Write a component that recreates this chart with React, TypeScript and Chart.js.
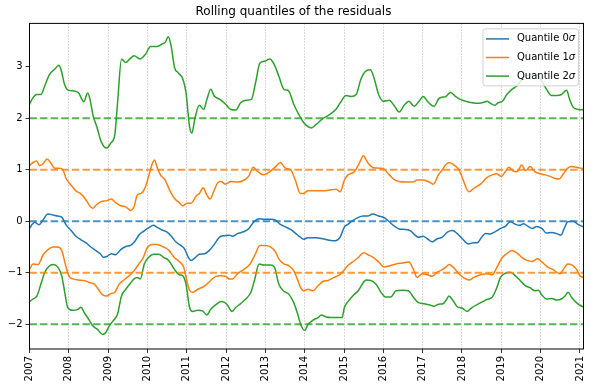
import React, { useEffect, useRef } from "react";
import { Chart, registerables } from "chart.js";

Chart.register(...registerables);

const TITLE = "Rolling quantiles of the residuals";
const YEAR_TICKS = [2007, 2008, 2009, 2010, 2011, 2012, 2013, 2014, 2015, 2016, 2017, 2018, 2019, 2020, 2021];
const Y_TICKS = [-2, -1, 0, 1, 2, 3];
const X_MIN = 2007;
const X_MAX = 2021.09;
const Y_MIN = -2.48;
const Y_MAX = 3.84;
const LEGEND_LABELS = ["Quantile 0", "Quantile 1", "Quantile 2"];
const REF_LEVELS = [0, 1, -1, 2, -2];

const q0: [number, number][] = [[2007.0,-0.14],[2007.07,-0.06],[2007.13,-0.02],[2007.24,-0.07],[2007.34,0.02],[2007.47,0.14],[2007.6,0.12],[2007.72,0.10],[2007.82,0.08],[2007.93,-0.07],[2008.06,-0.18],[2008.18,-0.29],[2008.31,-0.36],[2008.44,-0.42],[2008.56,-0.50],[2008.69,-0.57],[2008.8,-0.63],[2008.88,-0.70],[2008.98,-0.68],[2009.08,-0.63],[2009.19,-0.65],[2009.32,-0.55],[2009.45,-0.49],[2009.57,-0.47],[2009.67,-0.40],[2009.78,-0.27],[2009.91,-0.19],[2010.03,-0.13],[2010.15,-0.08],[2010.25,-0.12],[2010.37,-0.17],[2010.5,-0.21],[2010.62,-0.30],[2010.72,-0.40],[2010.83,-0.46],[2010.94,-0.53],[2011.04,-0.70],[2011.11,-0.76],[2011.21,-0.71],[2011.32,-0.64],[2011.45,-0.63],[2011.57,-0.57],[2011.7,-0.45],[2011.83,-0.31],[2011.95,-0.28],[2012.08,-0.27],[2012.16,-0.29],[2012.29,-0.24],[2012.46,-0.20],[2012.58,-0.14],[2012.71,-0.01],[2012.84,0.05],[2012.96,0.04],[2013.13,0.04],[2013.26,0.02],[2013.38,-0.06],[2013.51,-0.11],[2013.64,-0.16],[2013.76,-0.23],[2013.89,-0.31],[2013.97,-0.35],[2014.08,-0.32],[2014.29,-0.32],[2014.46,-0.34],[2014.63,-0.37],[2014.78,-0.38],[2014.9,-0.31],[2015.01,-0.11],[2015.1,-0.06],[2015.22,0.01],[2015.35,0.07],[2015.49,0.10],[2015.6,0.10],[2015.73,0.14],[2015.88,0.10],[2016.02,0.07],[2016.15,-0.01],[2016.27,-0.09],[2016.4,-0.15],[2016.57,-0.16],[2016.7,-0.19],[2016.78,-0.25],[2016.89,-0.31],[2017.01,-0.29],[2017.12,-0.34],[2017.24,-0.40],[2017.37,-0.34],[2017.5,-0.31],[2017.63,-0.21],[2017.76,-0.18],[2017.88,-0.24],[2018.01,-0.34],[2018.16,-0.44],[2018.3,-0.42],[2018.39,-0.42],[2018.5,-0.31],[2018.6,-0.24],[2018.72,-0.25],[2018.85,-0.20],[2018.98,-0.14],[2019.1,-0.10],[2019.23,-0.01],[2019.36,-0.06],[2019.46,-0.08],[2019.57,-0.05],[2019.68,-0.10],[2019.79,-0.14],[2019.9,-0.10],[2020.03,-0.14],[2020.15,-0.23],[2020.28,-0.22],[2020.41,-0.24],[2020.52,-0.27],[2020.6,-0.14],[2020.69,-0.01],[2020.83,0.00],[2020.95,-0.06],[2021.09,-0.11]];

const q1Up: [number, number][] = [[2007.0,1.08],[2007.09,1.14],[2007.18,1.17],[2007.26,1.08],[2007.34,1.11],[2007.45,1.21],[2007.54,1.13],[2007.64,1.03],[2007.76,1.03],[2007.85,1.00],[2007.93,0.83],[2008.06,0.70],[2008.18,0.59],[2008.31,0.53],[2008.44,0.41],[2008.52,0.31],[2008.61,0.25],[2008.69,0.31],[2008.82,0.38],[2008.97,0.40],[2009.08,0.43],[2009.19,0.36],[2009.32,0.30],[2009.45,0.28],[2009.57,0.21],[2009.66,0.28],[2009.74,0.51],[2009.84,0.54],[2009.95,0.67],[2010.03,0.87],[2010.12,1.11],[2010.18,1.19],[2010.24,1.06],[2010.33,0.90],[2010.45,0.80],[2010.56,0.61],[2010.69,0.44],[2010.81,0.36],[2010.9,0.30],[2011.0,0.35],[2011.11,0.35],[2011.24,0.49],[2011.32,0.54],[2011.42,0.65],[2011.49,0.54],[2011.59,0.43],[2011.68,0.57],[2011.78,0.74],[2011.87,0.77],[2011.98,0.72],[2012.12,0.77],[2012.29,0.76],[2012.46,0.80],[2012.58,0.88],[2012.69,1.05],[2012.81,0.96],[2012.96,0.90],[2013.11,0.96],[2013.26,1.06],[2013.38,1.14],[2013.51,1.03],[2013.64,1.00],[2013.76,0.80],[2013.89,0.54],[2013.97,0.54],[2014.08,0.59],[2014.25,0.59],[2014.46,0.59],[2014.67,0.61],[2014.8,0.62],[2014.9,0.57],[2015.01,0.80],[2015.1,0.90],[2015.26,0.96],[2015.39,1.13],[2015.49,1.27],[2015.6,1.14],[2015.74,1.04],[2015.9,1.03],[2016.02,1.01],[2016.15,0.90],[2016.27,0.81],[2016.4,0.77],[2016.57,0.76],[2016.74,0.76],[2016.86,0.80],[2016.99,0.80],[2017.14,0.77],[2017.27,0.72],[2017.4,0.90],[2017.5,1.00],[2017.58,1.09],[2017.67,1.14],[2017.8,1.09],[2017.92,1.00],[2018.03,0.80],[2018.11,0.64],[2018.18,0.57],[2018.3,0.64],[2018.47,0.72],[2018.64,0.85],[2018.77,0.90],[2018.88,0.92],[2019.0,0.87],[2019.1,0.96],[2019.19,1.05],[2019.29,0.98],[2019.4,0.96],[2019.52,1.09],[2019.62,0.98],[2019.73,1.06],[2019.86,0.96],[2019.99,0.92],[2020.11,0.90],[2020.24,0.87],[2020.37,0.83],[2020.47,0.82],[2020.58,0.92],[2020.69,1.03],[2020.79,1.06],[2020.91,1.05],[2021.09,1.02]];

const q1Lo: [number, number][] = [[2007.0,-0.93],[2007.09,-0.83],[2007.22,-0.84],[2007.34,-0.66],[2007.47,-0.55],[2007.6,-0.50],[2007.72,-0.50],[2007.82,-0.57],[2007.91,-0.83],[2008.0,-1.06],[2008.1,-1.12],[2008.23,-1.14],[2008.39,-1.15],[2008.52,-1.19],[2008.65,-1.22],[2008.75,-1.32],[2008.86,-1.43],[2008.97,-1.45],[2009.08,-1.40],[2009.17,-1.38],[2009.28,-1.22],[2009.4,-1.14],[2009.53,-1.06],[2009.66,-0.96],[2009.78,-0.83],[2009.89,-0.71],[2009.99,-0.52],[2010.12,-0.45],[2010.24,-0.45],[2010.41,-0.50],[2010.54,-0.56],[2010.69,-0.71],[2010.81,-0.78],[2010.92,-0.89],[2011.0,-1.15],[2011.07,-1.34],[2011.15,-1.38],[2011.28,-1.32],[2011.45,-1.26],[2011.61,-1.15],[2011.74,-1.07],[2011.87,-1.06],[2011.99,-1.07],[2012.08,-1.12],[2012.16,-1.12],[2012.29,-1.02],[2012.46,-0.93],[2012.61,-0.83],[2012.73,-0.66],[2012.86,-0.47],[2013.01,-0.47],[2013.13,-0.50],[2013.26,-0.60],[2013.34,-0.73],[2013.47,-0.83],[2013.59,-0.86],[2013.72,-0.96],[2013.81,-1.12],[2013.89,-1.28],[2013.97,-1.35],[2014.08,-1.32],[2014.21,-1.35],[2014.34,-1.25],[2014.46,-1.17],[2014.59,-1.15],[2014.72,-1.10],[2014.88,-1.04],[2014.99,-0.96],[2015.1,-0.86],[2015.22,-0.79],[2015.37,-0.70],[2015.5,-0.61],[2015.63,-0.66],[2015.74,-0.70],[2015.88,-0.79],[2016.02,-0.89],[2016.15,-0.87],[2016.32,-0.83],[2016.49,-0.81],[2016.65,-0.79],[2016.76,-0.93],[2016.86,-1.09],[2016.99,-1.02],[2017.12,-1.04],[2017.24,-1.07],[2017.37,-0.99],[2017.5,-0.94],[2017.59,-0.89],[2017.67,-0.84],[2017.8,-0.91],[2017.92,-1.02],[2018.05,-1.10],[2018.18,-1.14],[2018.3,-1.09],[2018.47,-1.04],[2018.64,-1.02],[2018.77,-1.04],[2018.89,-0.89],[2019.02,-0.71],[2019.14,-0.63],[2019.27,-0.57],[2019.4,-0.62],[2019.52,-0.70],[2019.65,-0.76],[2019.78,-0.78],[2019.93,-0.73],[2020.03,-0.79],[2020.18,-0.89],[2020.32,-0.94],[2020.49,-1.02],[2020.58,-0.93],[2020.69,-0.83],[2020.8,-0.85],[2020.91,-0.93],[2021.0,-1.06],[2021.09,-1.09]];

const q2Up: [number, number][] = [[2007.0,2.27],[2007.09,2.40],[2007.18,2.46],[2007.29,2.46],[2007.39,2.63],[2007.51,2.85],[2007.64,2.95],[2007.75,3.03],[2007.81,2.92],[2007.89,2.66],[2008.0,2.54],[2008.14,2.53],[2008.25,2.49],[2008.38,2.32],[2008.48,2.49],[2008.54,2.36],[2008.62,2.04],[2008.71,1.84],[2008.82,1.55],[2008.96,1.42],[2009.07,1.52],[2009.17,1.68],[2009.24,2.30],[2009.34,3.15],[2009.45,3.08],[2009.55,3.15],[2009.66,3.21],[2009.81,3.15],[2009.95,3.24],[2010.08,3.39],[2010.24,3.39],[2010.37,3.44],[2010.45,3.47],[2010.53,3.58],[2010.6,3.41],[2010.69,2.98],[2010.77,2.89],[2010.9,2.76],[2010.98,2.50],[2011.07,1.84],[2011.13,1.71],[2011.21,2.01],[2011.32,2.25],[2011.43,2.17],[2011.51,2.36],[2011.61,2.56],[2011.7,2.43],[2011.85,2.36],[2011.99,2.27],[2012.12,2.17],[2012.25,2.16],[2012.37,2.30],[2012.5,2.35],[2012.64,2.36],[2012.75,2.69],[2012.86,3.07],[2013.0,3.11],[2013.11,3.15],[2013.22,3.05],[2013.34,2.82],[2013.47,2.56],[2013.59,2.53],[2013.72,2.27],[2013.85,2.07],[2013.96,1.93],[2014.04,1.86],[2014.17,1.81],[2014.29,1.88],[2014.46,1.99],[2014.63,2.07],[2014.8,2.18],[2014.93,2.33],[2015.05,2.44],[2015.18,2.42],[2015.31,2.46],[2015.43,2.76],[2015.56,2.92],[2015.67,2.94],[2015.77,2.76],[2015.88,2.46],[2016.0,2.33],[2016.15,2.35],[2016.27,2.25],[2016.4,2.12],[2016.53,2.25],[2016.65,2.33],[2016.78,2.23],[2016.91,2.33],[2017.01,2.42],[2017.14,2.31],[2017.29,2.23],[2017.41,2.38],[2017.52,2.41],[2017.59,2.42],[2017.71,2.50],[2017.84,2.42],[2017.97,2.36],[2018.09,2.33],[2018.26,2.30],[2018.43,2.29],[2018.56,2.31],[2018.64,2.33],[2018.72,2.29],[2018.83,2.25],[2018.92,2.30],[2019.03,2.33],[2019.14,2.46],[2019.27,2.56],[2019.4,2.63],[2019.57,2.79],[2019.73,2.85],[2019.9,2.85],[2020.03,2.72],[2020.15,2.56],[2020.28,2.44],[2020.41,2.44],[2020.53,2.46],[2020.66,2.54],[2020.74,2.36],[2020.83,2.21],[2020.96,2.17],[2021.09,2.16]];

const q2Lo: [number, number][] = [[2007.0,-1.56],[2007.09,-1.51],[2007.19,-1.45],[2007.29,-1.22],[2007.39,-0.99],[2007.49,-0.88],[2007.6,-0.84],[2007.72,-0.89],[2007.82,-1.06],[2007.89,-1.35],[2007.97,-1.67],[2008.1,-1.73],[2008.23,-1.71],[2008.31,-1.67],[2008.39,-1.77],[2008.52,-1.92],[2008.61,-2.03],[2008.73,-2.10],[2008.86,-2.20],[2008.94,-2.16],[2009.03,-2.03],[2009.13,-1.93],[2009.24,-1.80],[2009.34,-1.45],[2009.45,-1.32],[2009.55,-1.22],[2009.66,-1.12],[2009.74,-1.09],[2009.82,-1.12],[2009.92,-0.83],[2010.03,-0.70],[2010.16,-0.64],[2010.29,-0.64],[2010.41,-0.70],[2010.54,-0.76],[2010.69,-0.94],[2010.81,-1.04],[2010.9,-1.06],[2010.98,-1.22],[2011.07,-1.67],[2011.15,-1.75],[2011.28,-1.73],[2011.4,-1.74],[2011.51,-1.82],[2011.61,-1.71],[2011.74,-1.62],[2011.88,-1.56],[2012.02,-1.61],[2012.15,-1.75],[2012.25,-1.67],[2012.37,-1.60],[2012.5,-1.51],[2012.63,-1.38],[2012.73,-1.12],[2012.84,-0.83],[2012.96,-0.85],[2013.13,-0.85],[2013.23,-0.89],[2013.34,-1.22],[2013.47,-1.36],[2013.59,-1.41],[2013.72,-1.58],[2013.82,-1.80],[2013.91,-2.03],[2014.0,-2.12],[2014.08,-2.01],[2014.21,-1.92],[2014.34,-1.87],[2014.42,-1.82],[2014.55,-1.86],[2014.67,-1.87],[2014.84,-1.87],[2014.95,-1.87],[2015.01,-1.67],[2015.1,-1.56],[2015.22,-1.45],[2015.37,-1.34],[2015.49,-1.19],[2015.56,-1.14],[2015.68,-1.15],[2015.81,-1.22],[2015.94,-1.38],[2016.05,-1.47],[2016.19,-1.47],[2016.32,-1.35],[2016.49,-1.34],[2016.64,-1.35],[2016.76,-1.47],[2016.89,-1.58],[2017.03,-1.60],[2017.16,-1.62],[2017.29,-1.65],[2017.41,-1.61],[2017.52,-1.60],[2017.59,-1.54],[2017.67,-1.45],[2017.77,-1.54],[2017.88,-1.66],[2018.01,-1.69],[2018.13,-1.75],[2018.26,-1.67],[2018.43,-1.60],[2018.6,-1.53],[2018.77,-1.47],[2018.87,-1.32],[2018.98,-1.09],[2019.1,-1.01],[2019.23,-0.99],[2019.36,-1.06],[2019.48,-1.15],[2019.61,-1.25],[2019.73,-1.29],[2019.86,-1.35],[2019.94,-1.34],[2020.03,-1.43],[2020.15,-1.51],[2020.28,-1.50],[2020.41,-1.53],[2020.53,-1.51],[2020.62,-1.45],[2020.7,-1.38],[2020.79,-1.48],[2020.91,-1.58],[2021.02,-1.64],[2021.09,-1.66]];

const BLUE = "#1f77b4";
const ORANGE = "#ff7f0e";
const GREEN = "#2ca02c";
const BLUE_D = "rgba(31,119,180,0.8)";
const ORANGE_D = "rgba(255,127,14,0.8)";
const GREEN_D = "rgba(44,160,44,0.8)";
const FONT = "'DejaVu Sans', sans-serif";

const toXY = (arr: [number, number][]) => arr.map(([x, y]) => ({ x, y }));

const solid = (label: string, data: [number, number][], color: string, order: number) => ({
  label,
  data: toXY(data),
  borderColor: color,
  borderWidth: 1.5,
  pointRadius: 0,
  fill: false,
  cubicInterpolationMode: "monotone" as const,
  order,
});

const dashed = (level: number, color: string) => ({
  label: "ref" + level,
  data: [{ x: X_MIN, y: level }, { x: X_MAX, y: level }],
  borderColor: color,
  borderWidth: 2,
  borderDash: [7.4, 3.2],
  pointRadius: 0,
  fill: false,
  order: 0,
});

const refColor = (lv: number) => (lv === 0 ? BLUE_D : Math.abs(lv) === 1 ? ORANGE_D : GREEN_D);

const framePlugin = {
  id: "frame",
  afterDraw(chart: any) {
    const { ctx, chartArea: a } = chart;
    ctx.save();
    ctx.strokeStyle = "#000";
    ctx.lineWidth = 1;
    ctx.strokeRect(a.left, a.top, a.right - a.left, a.bottom - a.top);
    ctx.restore();
  },
};

const legendPlugin = {
  id: "mplLegend",
  afterDraw(chart: any) {
    const { ctx, chartArea: a } = chart;
    const colors = [BLUE, ORANGE, GREEN];
    const w = 95.5;
    const h = 57;
    const x = a.right - 5 - w;
    const y = a.top + 5.5;
    ctx.save();
    ctx.beginPath();
    const r = 2.5;
    ctx.moveTo(x + r, y);
    ctx.lineTo(x + w - r, y);
    ctx.quadraticCurveTo(x + w, y, x + w, y + r);
    ctx.lineTo(x + w, y + h - r);
    ctx.quadraticCurveTo(x + w, y + h, x + w - r, y + h);
    ctx.lineTo(x + r, y + h);
    ctx.quadraticCurveTo(x, y + h, x, y + h - r);
    ctx.lineTo(x, y + r);
    ctx.quadraticCurveTo(x, y, x + r, y);
    ctx.closePath();
    ctx.fillStyle = "rgba(255,255,255,0.8)";
    ctx.fill();
    ctx.strokeStyle = "rgba(204,204,204,0.9)";
    ctx.lineWidth = 1;
    ctx.stroke();
    LEGEND_LABELS.forEach((lab, i) => {
      const cy = y + 10 + i * 18.6;
      ctx.strokeStyle = colors[i];
      ctx.lineWidth = 1.5;
      ctx.beginPath();
      ctx.moveTo(x + 3, cy);
      ctx.lineTo(x + 26, cy);
      ctx.stroke();
      ctx.fillStyle = "#000";
      ctx.textBaseline = "middle";
      ctx.textAlign = "left";
      ctx.font = "10px " + FONT;
      ctx.fillText(lab, x + 34, cy);
      const tw = ctx.measureText(lab).width;
      ctx.font = "italic 10px " + FONT;
      ctx.fillText("\u03c3", x + 34 + tw, cy);
    });
    ctx.restore();
  },
};

export default function App() {
  const ref = useRef<HTMLCanvasElement | null>(null);
  useEffect(() => {
    document.body.style.margin = "0";
    const canvas = ref.current;
    if (!canvas) return;
    const chart = new Chart(canvas, {
      type: "line",
      data: {
        datasets: [
          solid("Quantile 0σ", q0, BLUE, 3),
          solid("Quantile 1σ", q1Up, ORANGE, 2),
          solid("Quantile 1σ low", q1Lo, ORANGE, 2),
          solid("Quantile 2σ", q2Up, GREEN, 1),
          solid("Quantile 2σ low", q2Lo, GREEN, 1),
          ...REF_LEVELS.map((lv) => dashed(lv, refColor(lv))),
        ] as any,
      },
      options: {
        animation: false,
        responsive: false,
        maintainAspectRatio: false,
        layout: { padding: { left: 0, right: 8, top: 0, bottom: 0 } },
        plugins: {
          legend: { display: false },
          tooltip: { enabled: false },
          title: {
            display: true,
            text: TITLE,
            color: "#000",
            font: { family: FONT, size: 12, weight: "normal" as any, lineHeight: 1.2 },
            padding: { top: 5, bottom: 4 },
          },
        },
        scales: {
          x: {
            type: "linear",
            min: X_MIN,
            max: X_MAX,
            afterBuildTicks: (s: any) => {
              s.ticks = YEAR_TICKS.map((v) => ({ value: v }));
            },
            afterFit: (s: any) => {
              s.height = 40;
            },
            ticks: {
              minRotation: 90,
              maxRotation: 90,
              autoSkip: false,
              color: "#000",
              padding: 3,
              font: { family: FONT, size: 10 },
              callback: (v: any) => String(v),
            },
            grid: {
              display: true,
              drawOnChartArea: true,
              drawTicks: true,
              color: "#b0b0b0",
              lineWidth: 0.8,
              tickLength: 4,
              tickColor: "#000",
              tickWidth: 0.8,
            } as any,
            border: { display: false, dash: [1.2, 1.8] },
          },
          y: {
            type: "linear",
            min: Y_MIN,
            max: Y_MAX,
            afterBuildTicks: (s: any) => {
              s.ticks = Y_TICKS.map((v) => ({ value: v }));
            },
            afterFit: (s: any) => {
              s.width = 29.5;
            },
            ticks: {
              color: "#000",
              padding: 3,
              font: { family: FONT, size: 10 },
              callback: (v: any) => (v < 0 ? "\u2212" + Math.abs(v) : String(v)),
            },
            grid: {
              display: true,
              drawOnChartArea: false,
              drawTicks: true,
              tickLength: 4,
              tickColor: "#000",
              tickWidth: 0.8,
            } as any,
            border: { display: false },
          },
        },
      },
      plugins: [framePlugin, legendPlugin],
    });
    return () => chart.destroy();
  }, []);
  return (
    <div style={{ position: "fixed", left: 0, top: 0, width: 595, height: 389, background: "#fff" }}>
      <canvas ref={ref} width={595} height={389} style={{ display: "block" }} />
    </div>
  );
}
